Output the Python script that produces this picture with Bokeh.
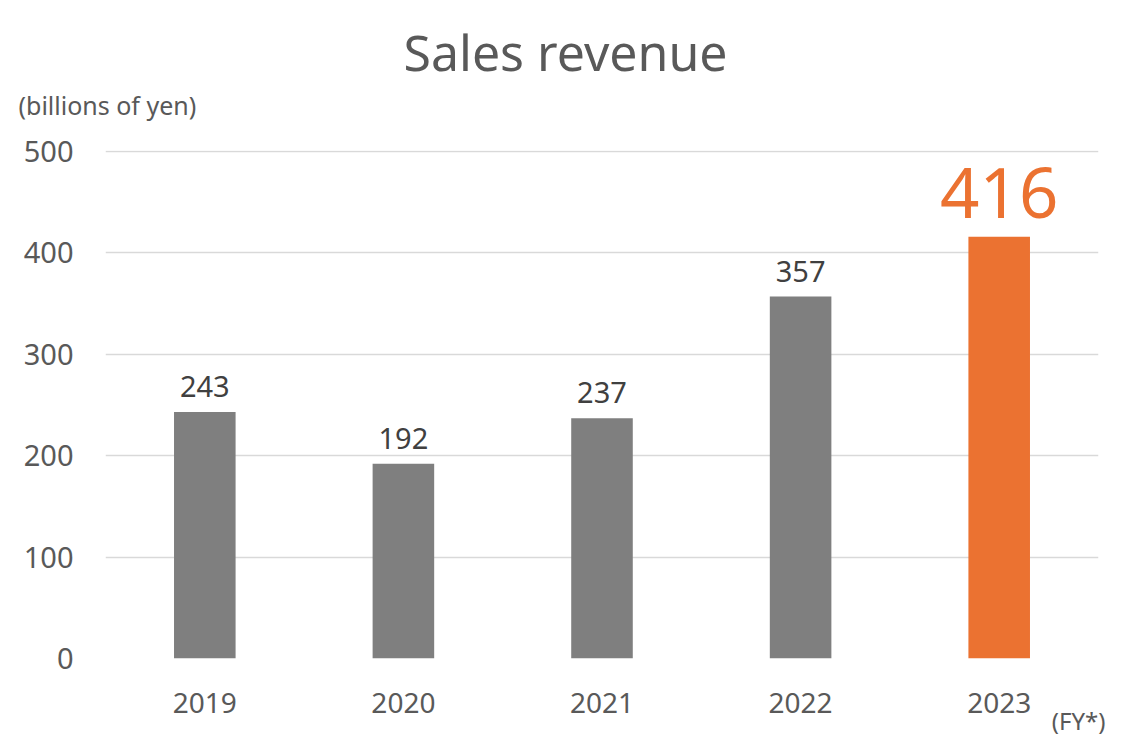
from bokeh.plotting import figure
from bokeh.models import ColumnDataSource, Range1d, FactorRange, FixedTicker, Title
from bokeh.core.properties import value
from bokeh.embed import file_html
from bokeh.resources import INLINE

years = ["2019", "2020", "2021", "2022", "2023"]
sales = [243, 192, 237, 357, 416]
y_ticks = [0, 100, 200, 300, 400, 500]
title_text = "Sales revenue"
unit_text = "(billions of yen)"
fy_text = "(FY*)"

FONT = "Noto Sans"
GRAY = "#7f7f7f"
ORANGE = "#EB7231"
TXT = "#595959"

p = figure(width=1116, height=745, x_range=FactorRange(*years), y_range=Range1d(0, 501),
           output_backend="svg", toolbar_location=None,
           min_border_left=105, min_border_right=18, min_border_top=150, min_border_bottom=87)
p.outline_line_color = None
p.background_fill_color = "white"

base = ColumnDataSource(dict(x=years[:-1], y=sales[:-1], lab=[str(v) for v in sales[:-1]]))
hi = ColumnDataSource(dict(x=years[-1:], y=sales[-1:], lab=[str(v) for v in sales[-1:]]))

p.vbar(x="x", top="y", width=0.31, source=base, fill_color=GRAY, line_color=None)
p.vbar(x="x", top="y", width=0.31, source=hi, fill_color=ORANGE, line_color=None)

p.text(x="x", y="y", text="lab", source=base, text_font=value(FONT), text_font_size="29px",
       text_color="#404040", text_align="center", text_baseline="bottom", y_offset=-15)
p.text(x="x", y="y", text="lab", source=hi, text_font=value(FONT), text_font_size="69px",
       text_color=ORANGE, text_align="center", text_baseline="bottom", y_offset=-19)

p.xgrid.grid_line_color = None
p.ygrid.grid_line_color = "#d9d9d9"
p.ygrid.grid_line_width = 1.3
p.yaxis.ticker = FixedTicker(ticks=y_ticks)

for ax in (p.xaxis, p.yaxis):
    ax.axis_line_color = None
    ax.major_tick_line_color = None
    ax.minor_tick_line_color = None
    ax.major_label_text_font = FONT
    ax.major_label_text_color = TXT
p.yaxis.major_label_text_font_size = "29px"
p.xaxis.major_label_text_font_size = "28px"
p.yaxis.major_label_standoff = 26
p.xaxis.major_label_standoff = 28

p.add_layout(Title(text=unit_text, text_font=FONT, text_font_size="25px", text_color=TXT,
                   text_font_style="normal", align="left", offset=-87, standoff=57), "above")
p.add_layout(Title(text=title_text, text_font=FONT, text_font_size="50px", text_color=TXT,
                   text_font_style="normal", align="left", offset=298, standoff=-56), "above")
p.add_layout(Title(text=fy_text, text_font=FONT, text_font_size="24px", text_color=TXT,
                   text_font_style="normal", align="right", offset=-7, standoff=-42), "below")

open("out.html", "w").write(file_html(p, INLINE))
